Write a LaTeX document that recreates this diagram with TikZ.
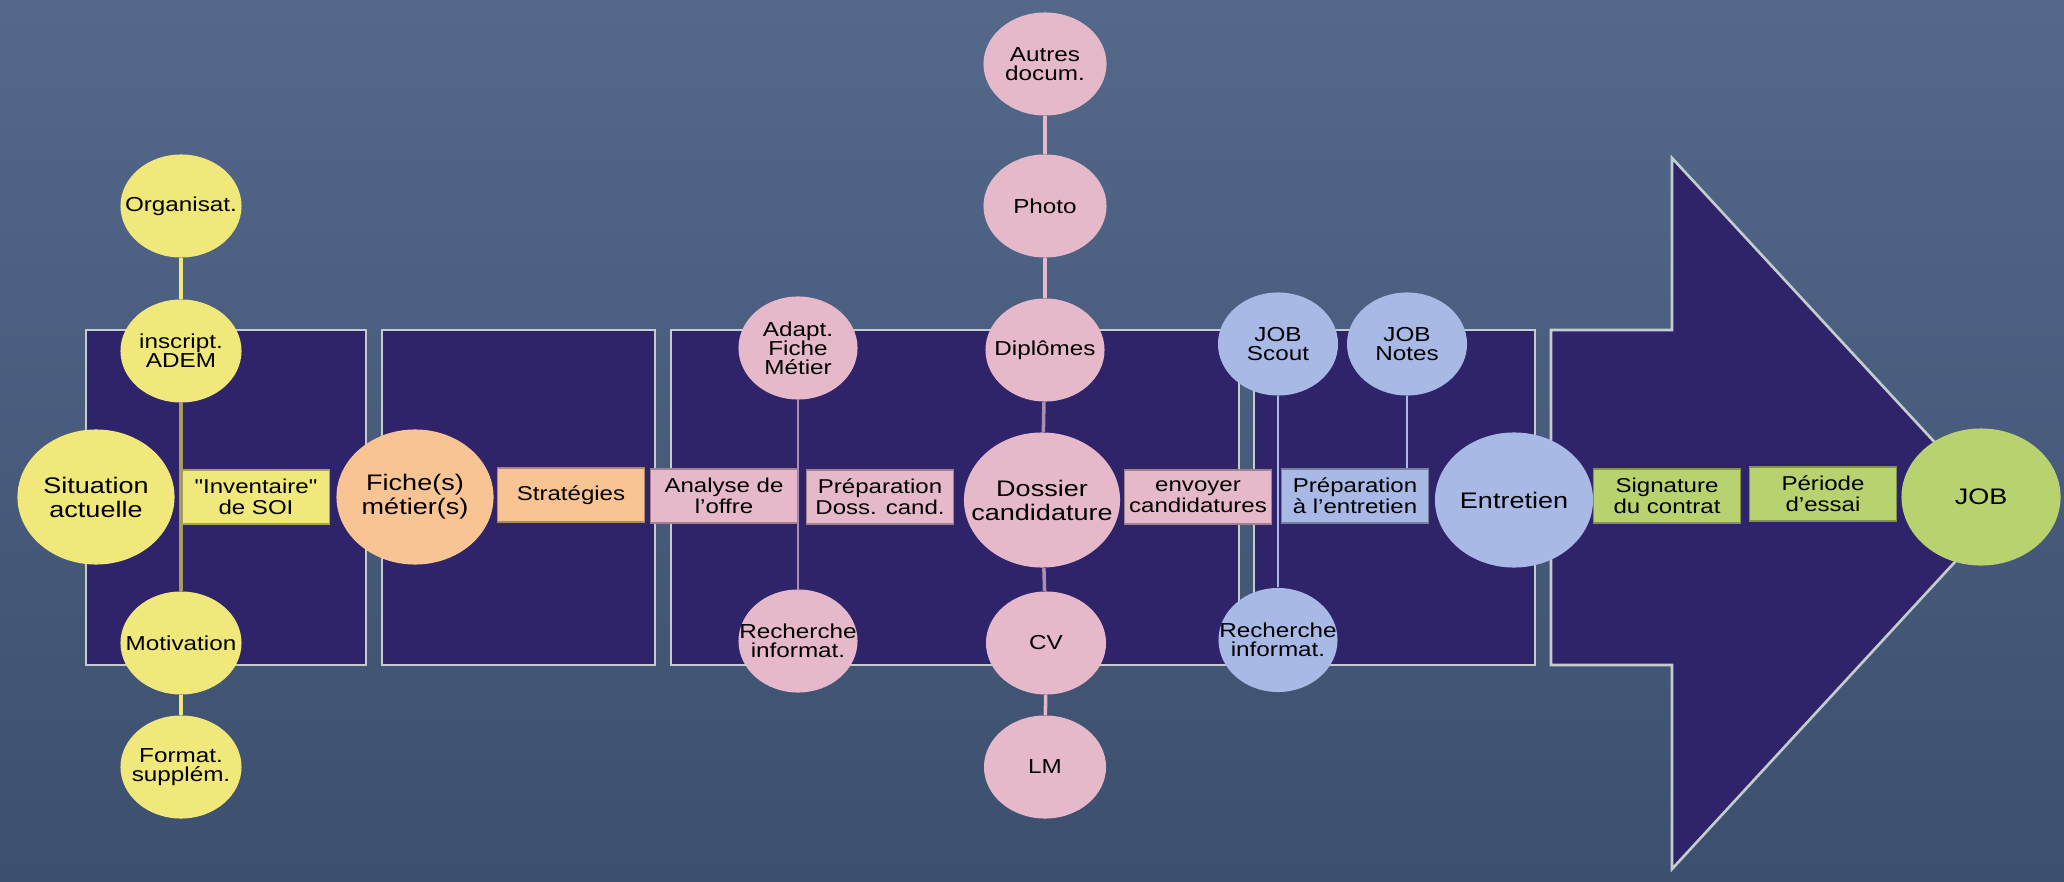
\documentclass[tikz,border=0pt]{standalone}
\usepackage{fontspec}
\setmainfont{Liberation Sans}[FakeStretch=1.2]
\newfontfamily\qf{Liberation Sans}[FakeStretch=1.2]
\usetikzlibrary{shapes.geometric}
\definecolor{bgtop}{RGB}{84,104,138}
\definecolor{bgbot}{RGB}{60,79,110}
\definecolor{navy}{RGB}{47,35,106}
\definecolor{edgec}{RGB}{195,205,205}
\definecolor{cyel}{RGB}{240,232,122}
\definecolor{corg}{RGB}{248,196,148}
\definecolor{cpink}{RGB}{230,185,202}
\definecolor{cblue}{RGB}{168,185,230}
\definecolor{cgreen}{RGB}{184,210,112}
\definecolor{yelin}{RGB}{165,155,92}
\definecolor{pinkin}{RGB}{172,140,176}
\newcommand\smallf{\fontsize{5.75}{5.4}\selectfont\lineskiplimit=-10pt}
\newcommand\bigf{\fontsize{6.4}{6.8}\selectfont\lineskiplimit=-10pt}
\newcommand\rectf{\fontsize{5.7}{6.0}\selectfont\lineskiplimit=-10pt}
\newcommand\zt[1]{\makebox[0pt]{\parbox{3cm}{\centering #1}}}
\begin{document}
\begin{tikzpicture}[x=0.01cm,y=-0.01cm,
  boxst/.style={fill=navy,draw=edgec,line width=0.75pt},
  ell/.style={ellipse,inner sep=0pt,text=black},
  sm/.style={ell,minimum width=1.21cm,minimum height=1.03cm,font=\smallf},
  bigc/.style={ell,minimum width=1.57cm,minimum height=1.35cm,font=\bigf},
  rbox/.style={rectangle,inner sep=0pt,minimum width=1.47cm,minimum height=0.54cm,font=\rectf,line width=0.4pt,text=black},
  ln/.style={line width=#1},
]
\shade[top color=bgtop,bottom color=bgbot] (0,0) rectangle (2064,882);
\useasboundingbox (0,0) rectangle (2064,882);

% boxes
\path[boxst] (86,330) rectangle (366,665);
\path[boxst] (382,330) rectangle (655,665);
\path[boxst] (671,330) rectangle (1239,665);
\path[boxst] (1254,330) rectangle (1535,665);
\path[boxst,line join=miter] (1551,330) -- (1672,330) -- (1672,158) -- (2000,513) -- (1672,869) -- (1672,665) -- (1551,665) -- cycle;

% yellow
\node[sm,fill=cyel] (org) at (181,206) {\zt{Organisat.}};
\node[sm,fill=cyel] (ins) at (181,351) {\zt{inscript.\\ADEM}};
\node[sm,fill=cyel] (mot) at (181,643) {\zt{Motivation}};
\node[sm,fill=cyel] (fmt) at (181,767) {\zt{Format.\\supplém.}};
\draw[cyel,ln=1.2pt] (org) -- (ins);
\draw[yelin,ln=1.2pt] (ins) -- (mot);
\draw[cyel,ln=1.2pt] (mot) -- (fmt);
\node[bigc,fill=cyel] (sit) at (96,497) {\zt{Situation\\actuelle}};
\node[rbox,fill=cyel,draw=cyel!70!black] (inv) at (256,497) {\zt{{\qf"}Inventaire{\qf"}\\de SOI}};

% orange
\node[bigc,fill=corg] (fiche) at (415,497) {\zt{Fiche(s)\\métier(s)}};
\node[rbox,fill=corg,draw=corg!70!black] (strat) at (571,495) {\zt{Stratégies}};

% pink
\node[sm,fill=cpink,minimum width=1.19cm] (adapt) at (798,348) {\zt{Adapt.\\Fiche\\Métier}};
\node[sm,fill=cpink,minimum width=1.19cm] (rech1) at (798,641) {\zt{Recherche\\informat.}};
\draw[pinkin,ln=0.6pt] (adapt) -- (rech1);
\node[rbox,fill=cpink,draw=cpink!70!black] (analyse) at (724,496) {\zt{Analyse de\\l’offre}};
\node[rbox,fill=cpink,draw=cpink!70!black] (prepd) at (880,497) {\zt{Préparation\\Doss. cand.}};
\node[sm,fill=cpink,minimum width=1.23cm] (autres) at (1045,64) {\zt{Autres\\docum.}};
\node[sm,fill=cpink,minimum width=1.23cm] (photo) at (1045,206) {\zt{Photo}};
\node[sm,fill=cpink,minimum width=1.19cm] (dipl) at (1045,350) {\zt{Diplômes}};
\node[bigc,fill=cpink,minimum width=1.56cm] (doss) at (1042,500) {\zt{Dossier\\candidature}};
\node[sm,fill=cpink,minimum width=1.2cm] (cv) at (1046,643) {\zt{CV}};
\node[sm,fill=cpink,minimum width=1.22cm] (lm) at (1045,767) {\zt{LM}};
\draw[cpink,ln=1pt] (autres) -- (photo);
\draw[cpink,ln=1pt] (photo) -- (dipl);
\draw[pinkin,ln=1pt] (dipl) -- (doss);
\draw[pinkin,ln=1pt] (doss) -- (cv);
\draw[cpink,ln=1pt] (cv) -- (lm);
\node[rbox,fill=cpink,draw=cpink!70!black] (envoy) at (1198,497) {\zt{envoyer\\candidatures}};

% blue
\node[sm,fill=cblue,minimum width=1.2cm] (scout) at (1278,344) {\zt{JOB\\Scout}};
\node[sm,fill=cblue,minimum width=1.2cm] (notes) at (1407,344) {\zt{JOB\\Notes}};
\node[sm,fill=cblue,minimum width=1.19cm,minimum height=1.04cm] (rech2) at (1278,640) {\zt{Recherche\\informat.}};
\node[rbox,fill=cblue,draw=cblue!70!black] (prepe) at (1355,496) {\zt{Préparation\\à l’entretien}};
\node[bigc,fill=cblue,minimum width=1.58cm] (entr) at (1514,500) {\zt{Entretien}};
\draw[cblue,ln=0.75pt] (scout) -- (rech2);
\draw[cblue,ln=0.75pt] (notes.south) -- (notes.south |- prepe.north);

% green
\node[rbox,fill=cgreen,draw=cgreen!70!black] (sign) at (1667,496) {\zt{Signature\\du contrat}};
\node[rbox,fill=cgreen,draw=cgreen!70!black] (essai) at (1823,494) {\zt{Période\\d’essai}};
\node[bigc,fill=cgreen,minimum width=1.59cm,minimum height=1.37cm] (job) at (1981,497) {\zt{JOB}};
\end{tikzpicture}
\end{document}
